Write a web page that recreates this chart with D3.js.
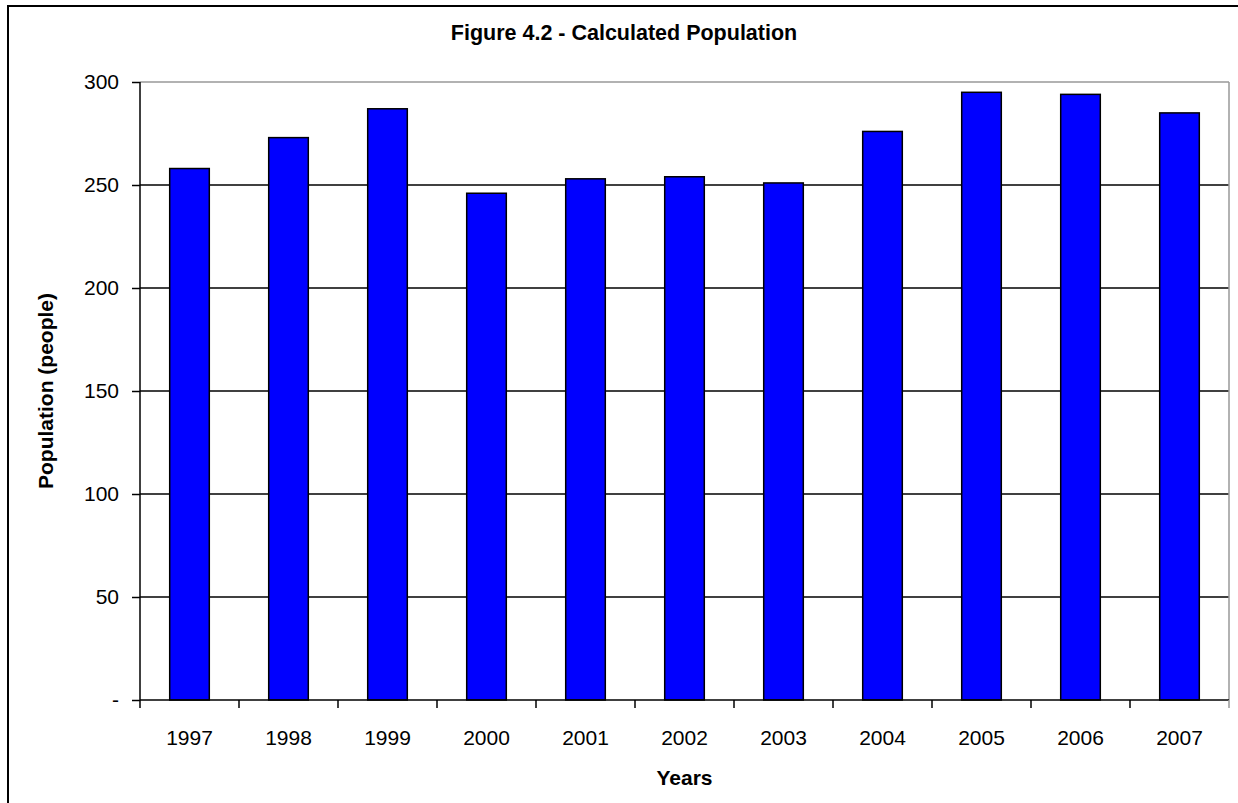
<!DOCTYPE html>
<html>
<head>
<meta charset="utf-8">
<script src="https://cdn.jsdelivr.net/npm/d3@7"></script>
<style>
  html, body { margin: 0; padding: 0; background: #fff; }
  svg { display: block; font-family: "Liberation Sans", Arial, sans-serif; }
</style>
</head>
<body>
<svg id="chart" width="1238" height="803"></svg>
<script>
// Calculated population by year
const years = ["1997", "1998", "1999", "2000", "2001", "2002", "2003", "2004", "2005", "2006", "2007"];
const population = [258, 273, 287, 246, 253, 254, 251, 276, 295, 294, 285];
const yTicks = [0, 50, 100, 150, 200, 250, 300];
const yTickLabels = ["-", "50", "100", "150", "200", "250", "300"];

const svg = d3.select("#chart");
const plot = { left: 140, right: 1229, top: 82, bottom: 700 };

// outer chart frame
svg.append("rect")
  .attr("x", 8).attr("y", 6)
  .attr("width", 1250).attr("height", 820)
  .attr("fill", "none").attr("stroke", "#000").attr("stroke-width", 2);

const x = d3.scaleBand().domain(years)
  .range([plot.left, plot.right])
  .paddingInner(0.6).paddingOuter(0.3);
const xCell = d3.scaleBand().domain(years).range([plot.left, plot.right]).padding(0);
const y = d3.scaleLinear().domain([0, 300]).range([plot.bottom, plot.top]);

// horizontal gridlines
svg.append("g").selectAll("line")
  .data(yTicks.filter(v => v > 0))
  .join("line")
  .attr("x1", plot.left).attr("x2", plot.right)
  .attr("y1", d => y(d)).attr("y2", d => y(d))
  .attr("stroke", d => d === 300 ? "#999" : "#000")
  .attr("stroke-width", 1.5);

// right edge of the plot area
svg.append("line")
  .attr("x1", plot.right).attr("x2", plot.right)
  .attr("y1", plot.top).attr("y2", plot.bottom)
  .attr("stroke", "#999").attr("stroke-width", 1.5);

// bars
svg.append("g").selectAll("rect")
  .data(years)
  .join("rect")
  .attr("x", d => x(d))
  .attr("width", x.bandwidth())
  .attr("y", (d, i) => y(population[i]))
  .attr("height", (d, i) => y(0) - y(population[i]))
  .attr("fill", "#0000ff")
  .attr("stroke", "#000")
  .attr("stroke-width", 1.5);

// y axis
const yAxis = d3.axisLeft(y)
  .tickValues(yTicks)
  .tickFormat((d, i) => yTickLabels[i])
  .tickSize(8)
  .tickPadding(13);
const gy = svg.append("g").attr("transform", `translate(${plot.left},0)`).call(yAxis);
gy.select(".domain").attr("stroke", "#000").attr("stroke-width", 1.5).attr("d", `M0,${plot.top}V${plot.bottom}`);
gy.selectAll(".tick line").attr("stroke", "#000").attr("stroke-width", 1.5);
gy.selectAll(".tick text")
  .attr("font-size", 21)
  .attr("font-family", "Liberation Sans, Arial, sans-serif")
  .attr("fill", "#000");

// x axis: labels centred in each category, ticks between categories
const xAxis = d3.axisBottom(xCell).tickSize(0).tickPadding(30);
const gx = svg.append("g").attr("transform", `translate(0,${plot.bottom})`).call(xAxis);
gx.select(".domain").attr("stroke", "#000").attr("stroke-width", 1.5).attr("d", `M${plot.left},0H${plot.right}`);
gx.selectAll(".tick text")
  .attr("font-size", 21)
  .attr("font-family", "Liberation Sans, Arial, sans-serif")
  .attr("fill", "#000");
const boundaries = years.map(d => xCell(d)).concat([plot.right]);
gx.append("g").selectAll("line")
  .data(boundaries)
  .join("line")
  .attr("x1", d => d).attr("x2", d => d)
  .attr("y1", 0).attr("y2", 8)
  .attr("stroke", (d, i) => i === boundaries.length - 1 ? "#999" : "#000")
  .attr("stroke-width", 1.5);

// titles
svg.append("text")
  .attr("x", 624).attr("y", 40)
  .attr("text-anchor", "middle")
  .attr("font-size", 21.5).attr("font-weight", "bold")
  .text("Figure 4.2 - Calculated Population");

svg.append("text")
  .attr("x", (plot.left + plot.right) / 2).attr("y", 785)
  .attr("text-anchor", "middle")
  .attr("font-size", 21).attr("font-weight", "bold")
  .text("Years");

svg.append("text")
  .attr("transform", `translate(53,${(plot.top + plot.bottom) / 2}) rotate(-90)`)
  .attr("text-anchor", "middle")
  .attr("font-size", 21).attr("font-weight", "bold")
  .text("Population (people)");
</script>
</body>
</html>
